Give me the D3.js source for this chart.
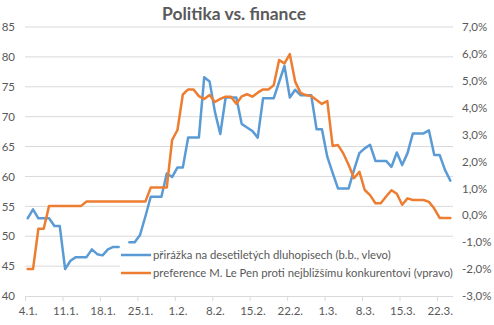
<!DOCTYPE html>
<html><head><meta charset="utf-8">
<script src="https://cdn.jsdelivr.net/npm/d3@7"></script>
<style>
html,body{margin:0;padding:0;background:#fff;}
svg text{font-family:Lato,"Liberation Sans",sans-serif;fill:#595959;}
</style></head>
<body><svg id="c" width="494" height="325"></svg>
<script>
const title = "Politika vs. finance";
const startDate = new Date(Date.UTC(2017,0,4));
const endDate = new Date(Date.UTC(2017,2,25));
const dates = d3.utcDay.range(startDate, endDate);
const spread = [53.0,54.5,53.0,53.0,53.0,51.7,51.7,44.5,45.9,46.5,46.5,46.5,47.8,47.0,46.8,47.8,48.2,48.2,null,49.0,
 49.0,50.2,53.3,56.6,56.6,56.6,60.5,59.9,61.5,61.5,66.5,66.5,66.5,76.6,75.9,70.8,67.1,73.2,73.2,73.2,
 68.8,68.2,67.6,66.5,73.1,73.1,73.1,75.8,78.5,73.2,74.5,73.6,73.6,73.6,67.9,67.9,63.3,60.6,58.0,58.0,
 58.0,61.1,63.9,64.7,65.3,62.6,62.6,62.6,61.6,64.0,61.9,63.9,67.2,67.2,67.2,67.7,63.6,63.6,61.1,59.3];
const lePen = [-2.0,-2.0,-0.5,-0.5,0.35,0.35,0.35,0.35,0.35,0.35,0.35,0.51,0.51,0.51,0.51,0.51,0.51,0.51,0.51,0.51,
 0.51,0.51,0.51,1.03,1.03,1.03,1.03,2.80,3.17,4.49,4.68,4.68,4.43,4.32,4.47,4.21,4.33,4.41,4.41,4.15,
 4.42,4.50,4.41,4.56,4.68,4.68,4.84,5.77,5.65,5.99,4.97,4.55,4.47,4.43,4.29,4.14,4.25,2.58,2.61,2.30,
 1.87,1.38,1.62,0.94,0.75,0.45,0.45,0.70,0.93,0.80,0.39,0.63,0.57,0.57,0.57,0.50,0.25,-0.10,-0.10,-0.10];
const seriesNames = ["přirážka na desetiletých dluhopisech (b.b., vlevo)","preference M. Le Pen proti nejbližšímu konkurentovi (vpravo)"];
const seriesColors = ["#5B9BD5","#ED7D31"];
const leftTicks = [40,45,50,55,60,65,70,75,80,85];
const rightTicks = [-3,-2,-1,0,1,2,3,4,5,6,7];
const xTickDates = ["2017-01-04","2017-01-11","2017-01-18","2017-01-25","2017-02-01","2017-02-08","2017-02-15","2017-02-22","2017-03-01","2017-03-08","2017-03-15","2017-03-22"];
const xTickLabels = ["4.1.","11.1.","18.1.","25.1.","1.2.","8.2.","15.2.","22.2.","1.3.","8.3.","15.3.","22.3."];

const svg = d3.select("#c");
const L = 25, R = 453, T = 27, B = 296;
const x = d3.scaleUtc().domain([d3.utcHour.offset(startDate,-12), d3.utcHour.offset(endDate,-12)]).range([L,R]);
const step = (R-L)/dates.length;
const yL = d3.scaleLinear().domain([40,85]).range([B,T]);
const yR = d3.scaleLinear().domain([-3,7]).range([B,T]);

// gridlines
svg.append("g").selectAll("line").data(leftTicks.slice(1)).join("line")
  .attr("x1",L).attr("x2",R).attr("y1",d=>yL(d)).attr("y2",d=>yL(d))
  .attr("stroke","#d9d9d9").attr("stroke-width",1);

// left axis
const gl = svg.append("g").attr("transform",`translate(${L},0)`)
  .call(d3.axisLeft(yL).tickValues(leftTicks).tickSize(0).tickPadding(10));
gl.select(".domain").remove();
gl.selectAll("text").style("font-size","11.5px").attr("fill","#595959").attr("font-family","Lato");

// right axis
const gr = svg.append("g").attr("transform",`translate(${R},0)`)
  .call(d3.axisRight(yR).tickValues(rightTicks).tickSize(0).tickPadding(9).tickFormat(d=>d3.format(".1f")(d).replace(".",",").replace("−","-")+"%"));
gr.select(".domain").remove();
gr.selectAll("text").style("font-size","11.5px").attr("fill","#595959").attr("font-family","Lato");

// bottom axis
const tickD = xTickDates.map(s=>new Date(s+"T00:00:00Z"));
const gx = svg.append("g").attr("transform",`translate(0,${B})`)
  .call(d3.axisBottom(x).tickValues(tickD).tickSize(5).tickPadding(6).tickFormat((d,i)=>xTickLabels[i]));
gx.select(".domain").attr("d",`M${L},0.5H${R}`).attr("stroke","#d9d9d9");
gx.selectAll(".tick line").attr("x1",-step/2).attr("x2",-step/2).attr("stroke","#d9d9d9");
gx.selectAll("text").style("font-size","11.5px").attr("fill","#595959").attr("font-family","Lato");

// lines
const rowsL = dates.map((d,i)=>({d, v:spread[i]}));
const rowsR = dates.map((d,i)=>({d, v:lePen[i]})).filter(r=>r.v!=null);
svg.append("path").datum(rowsL)
  .attr("d", d3.line().defined(r=>r.v!=null).x(r=>x(r.d)).y(r=>yL(r.v)))
  .attr("fill","none").attr("stroke",seriesColors[0]).attr("stroke-width",2.5).attr("stroke-linejoin","round").attr("stroke-linecap","round");
svg.append("path").datum(rowsR)
  .attr("d", d3.line().x(r=>x(r.d)).y(r=>yR(r.v)))
  .attr("fill","none").attr("stroke",seriesColors[1]).attr("stroke-width",2.5).attr("stroke-linejoin","round").attr("stroke-linecap","round");

// legend
const lg = svg.append("g");
lg.append("rect").attr("x",120).attr("y",248).attr("width",340).attr("height",42).attr("fill","#fff");
const targetW = [238, 300];
seriesNames.forEach((name,i)=>{
  const yy = 255 + i*18;
  lg.append("line").attr("x1",121).attr("x2",151).attr("y1",yy).attr("y2",yy)
    .attr("stroke",seriesColors[i]).attr("stroke-width",2.5);
  const t = lg.append("text").attr("x",153).attr("y",yy).attr("dy","0.35em")
    .style("font-size","11.5px").text(name);
  const w = t.node().getComputedTextLength();
  t.style("font-size",(11.5*targetW[i]/w).toFixed(2)+"px");
});

// title
const tt = svg.append("text").attr("x",234).attr("y",20).attr("text-anchor","middle")
  .style("font-size","16px").style("font-weight","bold").text(title);
const tw = tt.node().getComputedTextLength();
tt.style("font-size",(16*144/tw).toFixed(2)+"px");
</script></body></html>
